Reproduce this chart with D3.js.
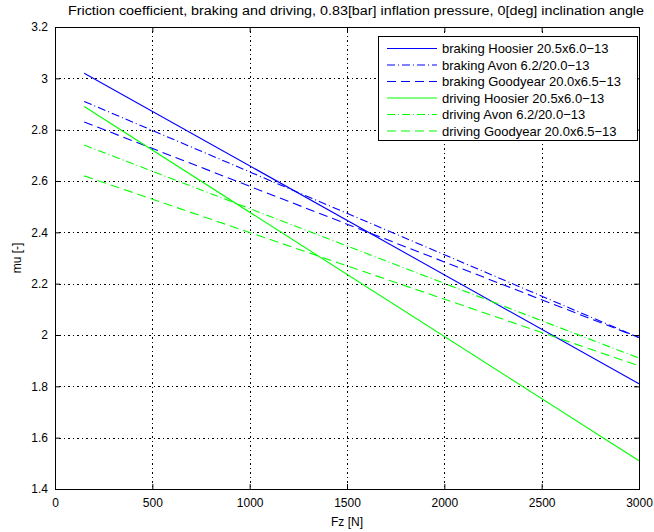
<!DOCTYPE html>
<html><head><meta charset="utf-8">
<script src="https://cdn.jsdelivr.net/npm/d3@7"></script>
<style>body{margin:0;background:#fff}svg{display:block}text{font-family:"Liberation Sans",Arial,sans-serif;fill:#000}</style>
</head><body><svg id="c" width="654" height="532"></svg>
<script>
const title = "Friction coefficient, braking and driving, 0.83[bar] inflation pressure, 0[deg] inclination angle";
const xLabel = "Fz [N]";
const yLabel = "mu [-]";
const xTicks = [0, 500, 1000, 1500, 2000, 2500, 3000];
const yTicks = [1.4, 1.6, 1.8, 2, 2.2, 2.4, 2.6, 2.8, 3, 3.2];
const fz = [150, 3000];
const seriesNames = ["braking Hoosier 20.5x6.0\u221213", "braking Avon 6.2/20.0\u221213", "braking Goodyear 20.0x6.5\u221213",
  "driving Hoosier 20.5x6.0\u221213", "driving Avon 6.2/20.0\u221213", "driving Goodyear 20.0x6.5\u221213"];
const brakingHoosier = [3.02, 1.81];
const brakingAvon = [2.91, 1.99];
const brakingGoodyear = [2.83, 1.99];
const drivingHoosier = [2.89, 1.51];
const drivingAvon = [2.74, 1.91];
const drivingGoodyear = [2.62, 1.88];
const seriesValues = [brakingHoosier, brakingAvon, brakingGoodyear, drivingHoosier, drivingAvon, drivingGoodyear];
const colors = ["#0000ff", "#0000ff", "#0000ff", "#00ff00", "#00ff00", "#00ff00"];
const dashes = [null, "8,3,1,3", "9,5", null, "8,3,1,3", "9,5"];

const svg = d3.select("#c");
const L = 55, R = 639, T = 27, B = 489;
const x = d3.scaleLinear().domain([0, 3000]).range([L, R]);
const y = d3.scaleLinear().domain([1.4, 3.2]).range([B, T]);

// grid
const grid = svg.append("g").attr("stroke", "#000").attr("stroke-width", 1).attr("stroke-dasharray", "1,3,2,3");
grid.selectAll(".gx").data(xTicks.slice(1, -1)).join("line")
  .attr("x1", d => Math.round(x(d)) + 0.5).attr("x2", d => Math.round(x(d)) + 0.5).attr("y1", T).attr("y2", B);
grid.selectAll(".gy").data(yTicks.slice(1, -1)).join("line")
  .attr("y1", d => Math.round(y(d)) + 0.5).attr("y2", d => Math.round(y(d)) + 0.5).attr("x1", L).attr("x2", R);

// lines
const line = d3.line().x((d, i) => x(fz[i])).y(d => y(d));
seriesValues.forEach((vals, i) => {
  svg.append("path").attr("d", line(vals)).attr("fill", "none")
    .attr("stroke", colors[i]).attr("stroke-width", 1.1)
    .attr("stroke-dasharray", dashes[i]);
});

// axes
const fmt = d => String(d);
const ax = svg.append("g").attr("transform", `translate(0,${B})`)
  .call(d3.axisBottom(x).tickValues(xTicks).tickFormat(fmt).tickSizeInner(-5).tickSizeOuter(0).tickPadding(9));
const axT = svg.append("g").attr("transform", `translate(0,${T})`)
  .call(d3.axisTop(x).tickValues(xTicks).tickFormat("").tickSizeInner(-5).tickSizeOuter(0));
const ay = svg.append("g").attr("transform", `translate(${L},0)`)
  .call(d3.axisLeft(y).tickValues(yTicks).tickFormat(fmt).tickSizeInner(-5).tickSizeOuter(0).tickPadding(7));
const ayR = svg.append("g").attr("transform", `translate(${R},0)`)
  .call(d3.axisRight(y).tickValues(yTicks).tickFormat("").tickSizeInner(-5).tickSizeOuter(0));
[ax, axT, ay, ayR].forEach(g => {
  g.selectAll("path,line").attr("stroke", "#000").attr("stroke-width", 1);
  g.selectAll("text").attr("font-size", 12).attr("font-family", "Liberation Sans, Arial, sans-serif");
});
svg.append("rect").attr("x", L + 0.5).attr("y", T + 0.5).attr("width", R - L).attr("height", B - T)
  .attr("fill", "none").attr("stroke", "#000").attr("stroke-width", 1);

// labels
svg.append("text").attr("x", 68).attr("y", 15).attr("font-size", 12.5)
  .attr("textLength", 576).attr("lengthAdjust", "spacingAndGlyphs").text(title);
svg.append("text").attr("x", (L + R) / 2).attr("y", 526).attr("text-anchor", "middle").attr("font-size", 12).text(xLabel);
svg.append("text").attr("transform", `translate(21,${(T + B) / 2}) rotate(-90)`).attr("text-anchor", "middle").attr("font-size", 12).text(yLabel);

// legend
const lg = svg.append("g");
lg.append("rect").attr("x", 378.5).attr("y", 36.5).attr("width", 259).attr("height", 104)
  .attr("fill", "#fff").attr("stroke", "#000").attr("stroke-width", 1);
seriesNames.forEach((name, i) => {
  const cy = 48.5 + i * 16.5;
  lg.append("line").attr("x1", 387).attr("x2", 437).attr("y1", cy).attr("y2", cy)
    .attr("stroke", colors[i]).attr("stroke-width", 1.1).attr("stroke-dasharray", dashes[i]);
  lg.append("text").attr("x", 442).attr("y", cy + 4.5).attr("font-size", 13).text(name);
});
</script></body></html>
